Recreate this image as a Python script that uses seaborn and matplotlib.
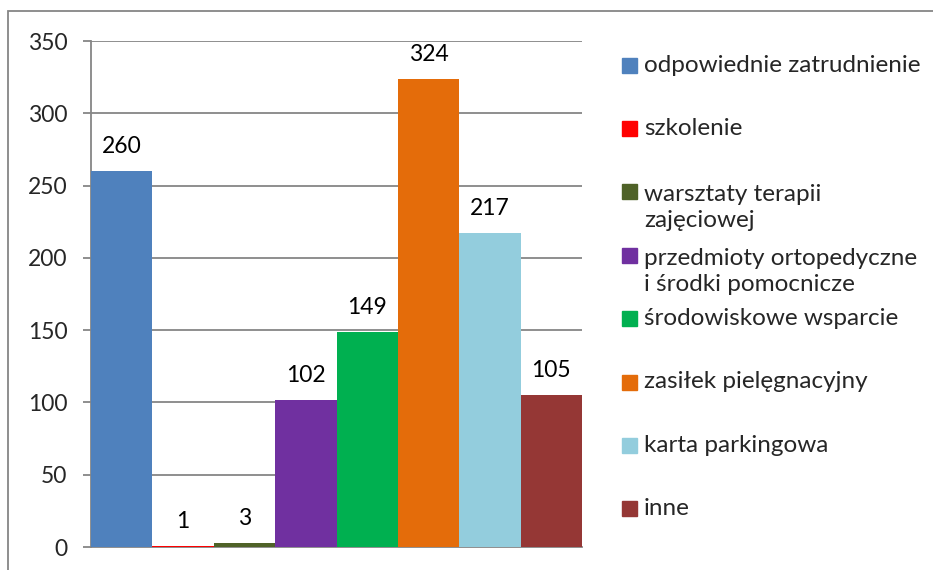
import matplotlib
matplotlib.use("Agg")
import matplotlib.pyplot as plt
from matplotlib.patches import Rectangle
import seaborn as sns

categories = [
    "odpowiednie zatrudnienie",
    "szkolenie",
    "warsztaty terapii\nzajęciowej",
    "przedmioty ortopedyczne\ni środki pomocnicze",
    "środowiskowe wsparcie",
    "zasiłek pielęgnacyjny",
    "karta parkingowa",
    "inne",
]
values = [260, 1, 3, 102, 149, 324, 217, 105]
colors = ["#4F81BD", "#FF0000", "#4F6228", "#7030A0",
          "#00B050", "#E46C0A", "#93CDDD", "#953735"]
yticks = [0, 50, 100, 150, 200, 250, 300, 350]

sns.set_style("white")
plt.rcParams["font.family"] = ["Lato", "DejaVu Sans"]

W, H = 933, 570
fig = plt.figure(figsize=(W / 100, H / 100), dpi=100)
ax = fig.add_axes([91 / W, 1 - 547 / H, (582 - 91) / W, (547 - 41) / H])

sns.barplot(x=categories, y=values, hue=categories, palette=colors,
            width=1, legend=False, saturation=1, linewidth=0, ax=ax)

for cont in ax.containers:
    ax.bar_label(cont, padding=10, fontsize=16.5, color="#000000")
    for bar in cont:
        bar.set_zorder(3)

grid_c = "#868686"
ax.set_xlim(-0.5, len(values) - 0.5)
ax.set_ylim(0, 350)
ax.set_yticks(yticks)
ax.set_xticks([])
ax.set_xlabel("")
ax.set_ylabel("")
ax.yaxis.grid(True, color=grid_c, linewidth=1.3)
ax.set_axisbelow(True)
ax.tick_params(axis="y", length=6, width=1.3, color=grid_c, pad=11,
               labelsize=16.5, left=True)
for side in ["top", "right"]:
    ax.spines[side].set_visible(False)
for side in ["left", "bottom"]:
    ax.spines[side].set_color(grid_c)
    ax.spines[side].set_linewidth(1.3)
    ax.spines[side].set_zorder(1)

# legend drawn by hand, Excel style
y0, step, line_h = 65, 63.4, 32
for i, (lab, col) in enumerate(zip(categories, colors)):
    yc = y0 + i * step
    fig.patches.append(Rectangle((622 / W, 1 - (yc + 7.5) / H), 15 / W, 15 / H,
                                 transform=fig.transFigure, color=col))
    n = lab.count("\n")
    fig.text(644 / W, 1 - (yc + n * line_h / 2) / H, lab, va="center",
             ha="left", fontsize=17.5, linespacing=1.3)

# chart frame
fig.patches.append(Rectangle((8 / W, -0.1), 1.5, 1 - 11 / H + 0.1,
                             transform=fig.transFigure, fill=False,
                             edgecolor=grid_c, linewidth=1.3))

plt.savefig("out.png", dpi=100)
